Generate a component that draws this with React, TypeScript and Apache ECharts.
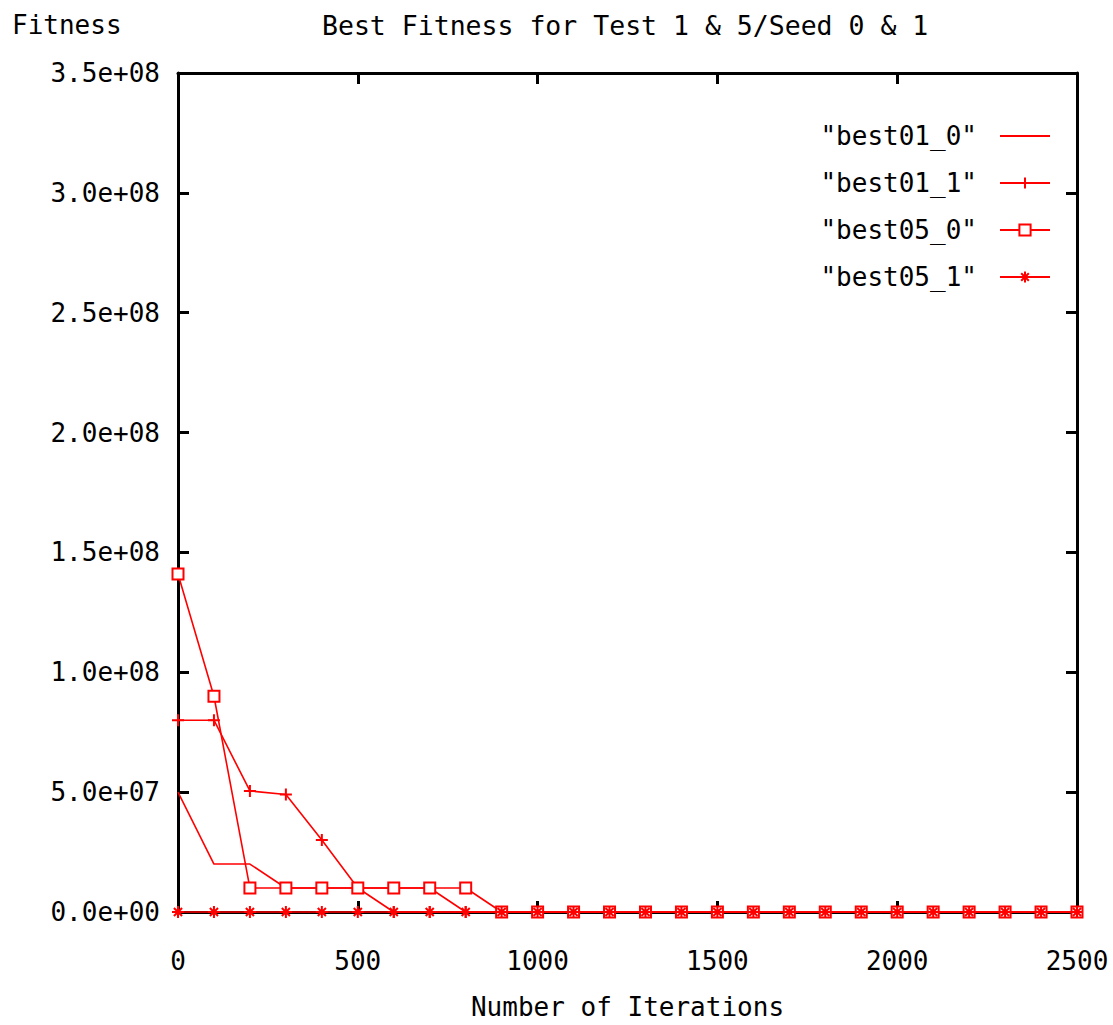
import React, { useEffect, useRef } from "react";
import * as echarts from "echarts";

const iterations = [0, 100, 200, 300, 400, 500, 600, 700, 800, 900, 1000, 1100, 1200, 1300, 1400, 1500, 1600, 1700, 1800, 1900, 2000, 2100, 2200, 2300, 2400, 2500];
const best01_0 = [5.0e7, 2.0e7, 2.0e7, 1.0e7, 1.0e7, 1.0e7, 1.0e7, 1.0e7, 0, 0, 0, 0, 0, 0, 0, 0, 0, 0, 0, 0, 0, 0, 0, 0, 0, 0];
const best01_1 = [8.0e7, 8.0e7, 5.05e7, 4.9e7, 3.0e7, 1.0e7, 0, 0, 0, 0, 0, 0, 0, 0, 0, 0, 0, 0, 0, 0, 0, 0, 0, 0, 0, 0];
const best05_0 = [1.41e8, 9.0e7, 1.0e7, 1.0e7, 1.0e7, 1.0e7, 1.0e7, 1.0e7, 1.0e7, 0, 0, 0, 0, 0, 0, 0, 0, 0, 0, 0, 0, 0, 0, 0, 0, 0];
const best05_1 = [0, 0, 0, 0, 0, 0, 0, 0, 0, 0, 0, 0, 0, 0, 0, 0, 0, 0, 0, 0, 0, 0, 0, 0, 0, 0];
const seriesNames = ['"best01_0"', '"best01_1"', '"best05_0"', '"best05_1"'];
const yTickLabels = ["0.0e+00", "5.0e+07", "1.0e+08", "1.5e+08", "2.0e+08", "2.5e+08", "3.0e+08", "3.5e+08"];
const xTickLabels = ["0", "500", "1000", "1500", "2000", "2500"];
const titleText = "Best Fitness for Test 1 & 5/Seed 0 & 1";
const yName = "Fitness";
const xName = "Number of Iterations";

const FONT = "DejaVu Sans Mono";
const RED = "#ff0000";

const PLUS = "path://M5,0L5,10M0,5L10,5";
const STAR = "path://M5,0L5,10M0,5L10,5M1.6,1.6L8.4,8.4M1.6,8.4L8.4,1.6";

function pairs(vals: number[]) {
  return iterations.map((x, i) => [x, vals[i]]);
}

export default function App() {
  const ref = useRef<HTMLDivElement>(null);
  useEffect(() => {
    if (!ref.current) return;
    const chart = echarts.init(ref.current, undefined, { renderer: "svg" });
    const axisLine = { show: true, onZero: false, lineStyle: { color: "#000", width: 3 } };
    const axisTick = { show: true, inside: true, length: 11, lineStyle: { color: "#000", width: 3 } };
    const labelStyle = { color: "#000", fontFamily: FONT, fontSize: 26 };
    const xCommon = { type: "value", min: 0, max: 2500, interval: 500, splitLine: { show: false }, axisLine, axisTick };
    const yCommon = { type: "value", min: 0, max: 3.5e8, interval: 5e7, splitLine: { show: false }, axisLine, axisTick };
    const baseSeries = (name: string, data: number[], symbol: string, size: number) => ({
      name,
      type: "line",
      data: pairs(data),
      symbol,
      symbolSize: size,
      showSymbol: symbol !== "none",
      lineStyle: { color: RED, width: 1.6 },
      itemStyle:
        symbol === "none"
          ? { color: "rgba(0,0,0,0)", borderColor: "rgba(0,0,0,0)", borderWidth: 0 }
          : { color: RED, borderColor: RED, borderWidth: 2 },
      clip: false,
    });
    chart.setOption({
      animation: false,
      backgroundColor: "#fff",
      title: {
        text: titleText,
        left: 322,
        top: 11,
        padding: 0,
        textStyle: { ...labelStyle, fontSize: 26.5, fontWeight: "normal", lineHeight: 28 },
      },
      graphic: [
        {
          type: "text",
          left: 12,
          top: 12,
          style: { text: yName, fill: "#000", font: `26px "${FONT}"` },
        },
      ],
      legend: {
        orient: "vertical",
        right: 57,
        top: 118,
        align: "right",
        itemWidth: 50,
        itemHeight: 14,
        itemGap: 21,
        data: seriesNames,
        textStyle: { ...labelStyle, lineHeight: 26, padding: [0, 18, 0, 0] },
      },
      grid: { left: 178, right: 36, top: 73, bottom: 109 },
      xAxis: [
        {
          ...xCommon,
          position: "bottom",
          name: xName,
          nameLocation: "middle",
          nameGap: 82,
          nameTextStyle: labelStyle,
          axisLabel: {
            ...labelStyle,
            margin: 36,
            formatter: (v: number) => xTickLabels[Math.round(v / 500)] ?? "",
          },
        },
        { ...xCommon, position: "top", axisLabel: { show: false } },
      ],
      yAxis: [
        {
          ...yCommon,
          position: "left",
          axisLabel: {
            ...labelStyle,
            margin: 18,
            formatter: (v: number) => yTickLabels[Math.round(v / 5e7)] ?? "",
          },
        },
        { ...yCommon, position: "right", axisLabel: { show: false } },
      ],
      series: [
        baseSeries(seriesNames[0], best01_0, "none", 0),
        baseSeries(seriesNames[1], best01_1, PLUS, 12),
        baseSeries(seriesNames[2], best05_0, "emptyRect", 11),
        baseSeries(seriesNames[3], best05_1, STAR, 12),
      ],
    });
    return () => chart.dispose();
  }, []);
  return <div ref={ref} style={{ position: "fixed", left: 0, top: 0, width: 1113, height: 1025 }} />;
}
